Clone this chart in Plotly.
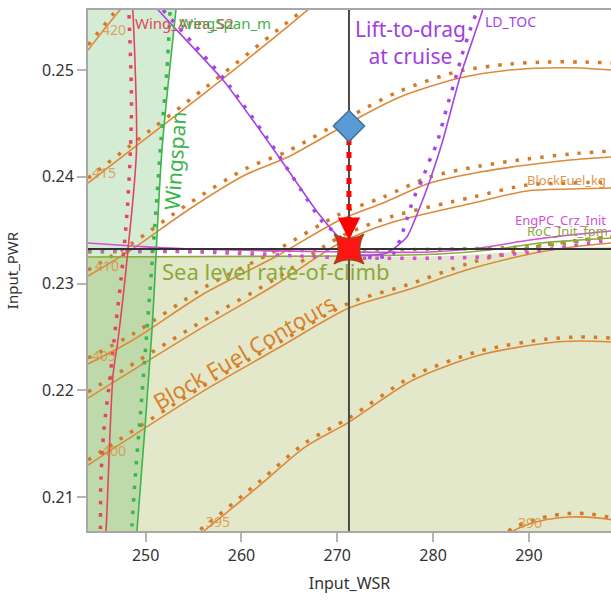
import plotly.graph_objects as go

# ---------------- axes ----------------
wsr_range = [243.98, 298.57]
pwr_range = [0.20682, 0.25562]
x_ticks = [250, 260, 270, 280, 290]
y_ticks = [0.21, 0.22, 0.23, 0.24, 0.25]

# ---------------- current / start point ----------------
current_wsr = 271.22
current_pwr = 0.23323
start_pwr = 0.24475

# ---------------- Block fuel contours ----------------
bf420_wsr = [243.98, 247.32, 248.36]
bf420_pwr = [0.25187, 0.25562, 0.25656]
bf420_dot_wsr = [243.98, 247.11, 247.94]
bf420_dot_pwr = [0.25234, 0.25581, 0.25674]

bf415_wsr = [243.98, 248.47, 256.19, 264.02, 267.15]
bf415_pwr = [0.23941, 0.24251, 0.24785, 0.25347, 0.25581]
bf415_dot_wsr = [243.98, 248.47, 256.19, 264.02, 267.15]
bf415_dot_pwr = [0.23988, 0.24297, 0.24831, 0.25393, 0.25609]

bf410_wsr = [243.98, 248.47, 254.42, 260.37, 264.85, 271.22, 276.54, 282.81, 288.03, 291.89, 295.34, 298.57]
bf410_pwr = [0.23070, 0.23314, 0.23689, 0.24016, 0.24185, 0.24504, 0.24747, 0.24925, 0.25000, 0.25019, 0.25019, 0.25000]
bf410_dot_wsr = [243.98, 248.47, 254.42, 260.37, 264.85, 271.22, 276.54, 282.81, 288.03, 291.89, 295.34, 298.57]
bf410_dot_pwr = [0.23126, 0.23370, 0.23745, 0.24073, 0.24241, 0.24560, 0.24803, 0.24991, 0.25056, 0.25075, 0.25075, 0.25066]

bf405_wsr = [243.98, 248.67, 256.19, 263.50, 270.28, 274.77, 279.68, 284.90, 289.80, 294.29, 298.57]
bf405_pwr = [0.22246, 0.22471, 0.22911, 0.23248, 0.23595, 0.23754, 0.23941, 0.24044, 0.24110, 0.24157, 0.24185]
bf405_dot_wsr = [243.98, 248.67, 256.19, 263.50, 270.28, 274.77, 279.68, 284.90, 289.80, 294.29, 298.57]
bf405_dot_pwr = [0.22302, 0.22527, 0.22967, 0.23304, 0.23651, 0.23810, 0.23998, 0.24101, 0.24166, 0.24213, 0.24241]

bfcur_wsr = [243.98, 255.46, 263.50, 270.28, 275.50, 284.17, 289.80, 294.29, 298.57]
bfcur_pwr = [0.21927, 0.22564, 0.22986, 0.23379, 0.23567, 0.23754, 0.23867, 0.23885, 0.23895]
bfcur_dot_wsr = [243.98, 255.46, 263.50, 270.28, 275.50, 284.17, 289.80, 294.29, 298.57]
bfcur_dot_pwr = [0.21984, 0.22621, 0.23042, 0.23436, 0.23623, 0.23810, 0.23923, 0.23941, 0.23951]

bf400_wsr = [243.98, 255.67, 264.02, 271.22, 277.27, 284.17, 291.16, 295.34, 298.57]
bf400_pwr = [0.21300, 0.21974, 0.22405, 0.22770, 0.22939, 0.23145, 0.23295, 0.23351, 0.23379]
bf400_dot_wsr = [243.98, 255.67, 264.02, 271.22, 277.27, 284.17, 291.16, 295.34, 298.57]
bf400_dot_pwr = [0.21347, 0.22021, 0.22452, 0.22817, 0.22986, 0.23201, 0.23351, 0.23407, 0.23436]

bf395_wsr = [254.63, 256.19, 261.93, 266.63, 271.22, 277.90, 284.90, 291.89, 295.34, 298.57]
bf395_pwr = [0.20588, 0.20691, 0.21112, 0.21468, 0.21702, 0.22096, 0.22330, 0.22443, 0.22461, 0.22452]
bf395_dot_wsr = [254.63, 256.19, 261.93, 266.63, 271.22, 277.90, 284.90, 291.89, 295.34, 298.57]
bf395_dot_pwr = [0.20625, 0.20728, 0.21150, 0.21506, 0.21740, 0.22134, 0.22368, 0.22480, 0.22499, 0.22490]

bf390_wsr = [286.98, 288.55, 291.16, 294.29, 297.42, 299.51]
bf390_pwr = [0.20597, 0.20691, 0.20775, 0.20813, 0.20803, 0.20775]
bf390_dot_wsr = [287.83, 288.76, 289.59, 290.84, 292.20, 293.56, 295.02, 296.38, 297.73, 299.51]
bf390_dot_pwr = [0.20682, 0.20728, 0.20756, 0.20794, 0.20822, 0.20841, 0.20850, 0.20841, 0.20822, 0.20794]

# ---------------- constraint contours ----------------
span_wsr = [253.27, 253.16, 251.70, 250.66, 249.09, 248.99]
span_pwr = [0.25656, 0.25562, 0.24251, 0.22564, 0.20682, 0.20588]
span_dot_wsr = [252.54, 252.22, 251.60, 251.08, 250.45, 250.03, 249.51, 248.99, 248.57, 248.47]
span_dot_pwr = [0.25543, 0.25000, 0.24344, 0.23689, 0.22939, 0.22443, 0.21843, 0.21281, 0.20738, 0.20588]

area_wsr = [248.57, 248.67, 249.04, 248.15, 247.11, 246.59, 245.86, 245.75]
area_pwr = [0.25656, 0.25543, 0.24251, 0.23314, 0.22471, 0.22143, 0.20682, 0.20588]
area_dot_wsr = [248.26, 248.52, 248.41, 248.05, 247.42, 246.90, 246.27, 245.64, 245.33, 245.28]
area_dot_pwr = [0.25515, 0.24719, 0.24251, 0.23660, 0.23033, 0.22630, 0.22115, 0.21628, 0.21159, 0.20588]

ld_wsr = [250.45, 251.49, 258.07, 263.18, 267.99, 270.39, 271.85, 273.42, 275.19, 277.27, 278.63, 279.68, 281.03, 282.81, 285.11, 285.42]
ld_pwr = [0.25656, 0.25543, 0.24906, 0.24279, 0.23660, 0.23407, 0.23276, 0.23267, 0.23286, 0.23436, 0.23717, 0.23970, 0.24344, 0.24934, 0.25543, 0.25656]
ld_dot_wsr = [251.81, 258.28, 263.18, 266.22, 268.30, 270.60, 271.85, 273.94, 275.81, 276.54, 277.07, 277.90, 278.84, 279.78, 280.41, 281.45, 282.29, 283.02, 283.86, 284.69]
ld_dot_pwr = [0.25562, 0.24906, 0.24297, 0.23876, 0.23595, 0.23407, 0.23276, 0.23239, 0.23276, 0.23407, 0.23548, 0.23782, 0.23970, 0.24185, 0.24316, 0.24653, 0.24906, 0.25141, 0.25375, 0.25581]

engpc_wsr = [243.98, 249.40, 254.62, 271.33, 279.68, 284.90, 290.12, 294.29, 298.57]
engpc_pwr = [0.23379, 0.23347, 0.23323, 0.23295, 0.23295, 0.23333, 0.23407, 0.23454, 0.23492]
engpc_dot_wsr = [243.98, 255.67, 266.11, 271.33, 284.90, 290.12, 294.29, 298.57]
engpc_dot_pwr = [0.23314, 0.23295, 0.23258, 0.23239, 0.23248, 0.23295, 0.23351, 0.23407]

roc_wsr = [243.98, 271.33, 280.72, 285.94, 291.16, 295.34, 298.57]
roc_pwr = [0.23248, 0.23258, 0.23276, 0.23314, 0.23379, 0.23407, 0.23426]
roc_dot_wsr = [243.98, 271.33, 281.76, 289.07, 293.25, 298.57]
roc_dot_pwr = [0.23295, 0.23314, 0.23323, 0.23342, 0.23370, 0.23445]
roc_limit_wsr = [243.60, 271.33, 280.72, 286.98, 293.25, 299.00]
roc_limit_pwr = [0.23248, 0.23248, 0.23258, 0.23286, 0.23323, 0.23351]

# ---------------- styles ----------------
ORANGE = "#dd8a3a"
ORANGE_DOT = "#d27a28"
RED = "#e0475f"
GREEN = "#3cb54a"
PURPLE = "#a346e3"
MAGENTA = "#d24fd6"
OLIVE = "#8da83a"
FONT = "Noto Sans, Open Sans, sans-serif"
DOT = "3.5px,9px"

fig = go.Figure()

# shaded infeasible regions
fig.add_trace(go.Scatter(x=roc_limit_wsr, y=roc_limit_pwr, mode="lines",
                         line=dict(width=0, shape="spline", smoothing=0.7),
                         fill="tozeroy", fillcolor="rgba(150,170,60,0.27)", hoverinfo="skip"))
fig.add_trace(go.Scatter(x=span_wsr, y=span_pwr, mode="lines",
                         line=dict(width=0, shape="spline", smoothing=0.7),
                         fill="tozerox", fillcolor="rgba(60,170,60,0.22)", hoverinfo="skip"))


def add_pair(xs, ys, xd, yd, color, dcolor, width=1.6, smooth=0.8):
    fig.add_trace(go.Scatter(x=xd, y=yd, mode="lines",
                             line=dict(color=dcolor, width=3.5, dash=DOT, shape="spline", smoothing=smooth),
                             hoverinfo="skip"))
    fig.add_trace(go.Scatter(x=xs, y=ys, mode="lines",
                             line=dict(color=color, width=width, shape="spline", smoothing=smooth),
                             hoverinfo="skip"))


for xs, ys, xd, yd in [
    (bf420_wsr, bf420_pwr, bf420_dot_wsr, bf420_dot_pwr),
    (bf415_wsr, bf415_pwr, bf415_dot_wsr, bf415_dot_pwr),
    (bf410_wsr, bf410_pwr, bf410_dot_wsr, bf410_dot_pwr),
    (bf405_wsr, bf405_pwr, bf405_dot_wsr, bf405_dot_pwr),
    (bfcur_wsr, bfcur_pwr, bfcur_dot_wsr, bfcur_dot_pwr),
    (bf400_wsr, bf400_pwr, bf400_dot_wsr, bf400_dot_pwr),
    (bf395_wsr, bf395_pwr, bf395_dot_wsr, bf395_dot_pwr),
    (bf390_wsr, bf390_pwr, bf390_dot_wsr, bf390_dot_pwr),
]:
    add_pair(xs, ys, xd, yd, ORANGE, ORANGE_DOT)

add_pair(roc_wsr, roc_pwr, roc_dot_wsr, roc_dot_pwr, OLIVE, OLIVE)
add_pair(engpc_wsr, engpc_pwr, engpc_dot_wsr, engpc_dot_pwr, MAGENTA, MAGENTA)
add_pair(ld_wsr, ld_pwr, ld_dot_wsr, ld_dot_pwr, PURPLE, PURPLE, smooth=0.5)
add_pair(area_wsr, area_pwr, area_dot_wsr, area_dot_pwr, RED, RED)
add_pair(span_wsr, span_pwr, span_dot_wsr, span_dot_pwr, GREEN, GREEN)

# crosshair
fig.add_trace(go.Scatter(x=wsr_range, y=[current_pwr, current_pwr], mode="lines",
                         line=dict(color="#333333", width=2), hoverinfo="skip"))
fig.add_trace(go.Scatter(x=[current_wsr, current_wsr], y=pwr_range, mode="lines",
                         line=dict(color="#4a4a4a", width=2), hoverinfo="skip"))

# red dashed move arrow
fig.add_trace(go.Scatter(x=[current_wsr, current_wsr], y=[start_pwr, current_pwr], mode="lines",
                         line=dict(color="#ff0000", width=5, dash="6px,7px"), hoverinfo="skip"))

# start point (diamond)
fig.add_trace(go.Scatter(x=[current_wsr], y=[start_pwr], mode="markers",
                         marker=dict(symbol="diamond", size=24, color="#5b9bd5",
                                     line=dict(color="#41719c", width=1.5)), hoverinfo="skip"))
# optimum point (star)
fig.add_trace(go.Scatter(x=[current_wsr], y=[current_pwr], mode="markers",
                         marker=dict(symbol="star-diamond", size=30, angle=45, color="#ff1414",
                                     line=dict(color="#9a4a1e", width=1.5)), hoverinfo="skip"))

ann = []
# arrow head
ann.append(dict(x=current_wsr, y=current_pwr, xref="x", yref="y", ax=0, ay=-30, showarrow=True,
                arrowhead=2, arrowsize=1.5, arrowwidth=3, arrowcolor="#ff0000", standoff=9, text=""))


def lab(text, x, y, color, size, xanchor="center", angle=0, opacity=1.0):
    ann.append(dict(text=text, x=x, y=y, xref="x", yref="y", showarrow=False, xanchor=xanchor,
                    yanchor="middle", textangle=angle, opacity=opacity,
                    font=dict(family=FONT, size=size, color=color)))


# contour level labels
for t, x, y in [("420", 246.70, 0.25375), ("415", 245.65, 0.24044), ("410", 245.96, 0.23173),
                ("405", 245.65, 0.22330), ("400", 246.70, 0.21440), ("395", 257.55, 0.20775),
                ("390", 290.12, 0.20766)]:
    lab(t, x, y, ORANGE, 14, opacity=0.75)

lab("BlockFuel_kg", 289.62, 0.23970, ORANGE, 13, xanchor="left", opacity=0.9)
lab("EngPC_Crz_Init", 288.37, 0.23595, MAGENTA, 13, xanchor="left")
lab("RoC_Init_fpm", 289.62, 0.23492, OLIVE, 13, xanchor="left")
lab("LD_TOC", 285.21, 0.25450, PURPLE, 14, xanchor="left")
lab("Wing_Area_S2", 248.67, 0.25440, RED, 15, xanchor="left")
lab("WingSpan_m", 253.27, 0.25440, GREEN, 15, xanchor="left")

# big descriptive labels
lab("Lift-to-drag<br>at cruise", 277.69, 0.25262, "#a040e0", 21)
lab("Wingspan", 253.06, 0.24157, GREEN, 21, angle=-86)
lab("Sea level rate-of-climb", 251.46, 0.23117, OLIVE, 22, xanchor="left")
lab("Block Fuel Contours", 260.16, 0.22358, "#d9822b", 22, angle=-30)

fig.update_layout(
    width=611, height=601,
    margin=dict(l=88, r=0, t=10, b=70),
    plot_bgcolor="white", paper_bgcolor="white",
    showlegend=False,
    annotations=ann,
    font=dict(family=FONT, color="#333333"),
    xaxis=dict(range=wsr_range, tickvals=x_ticks, ticks="outside", ticklen=9, tickwidth=2,
               tickcolor="#b5b5b5", showline=True, linecolor="#a8a8a8", linewidth=2, mirror=True,
               showgrid=False, zeroline=False, automargin=False,
               tickfont=dict(size=16, color="#333333"),
               title=dict(text="Input_WSR", font=dict(size=16, color="#333333"), standoff=13)),
    yaxis=dict(range=pwr_range, tickvals=y_ticks, tickformat=".2f", ticks="outside", ticklen=9,
               tickwidth=2, tickcolor="#b5b5b5", showline=True, linecolor="#a8a8a8", linewidth=2,
               showgrid=False, zeroline=False, automargin=False,
               tickfont=dict(size=16, color="#333333"),
               title=dict(text="Input_PWR", font=dict(size=15, color="#333333"), standoff=20)),
)

# remove the default 8px page margin so the 611x601 figure fills the window exactly
fig.write_html("out.html", config={"displayModeBar": False},
               post_script="document.body.style.margin='0px';")
